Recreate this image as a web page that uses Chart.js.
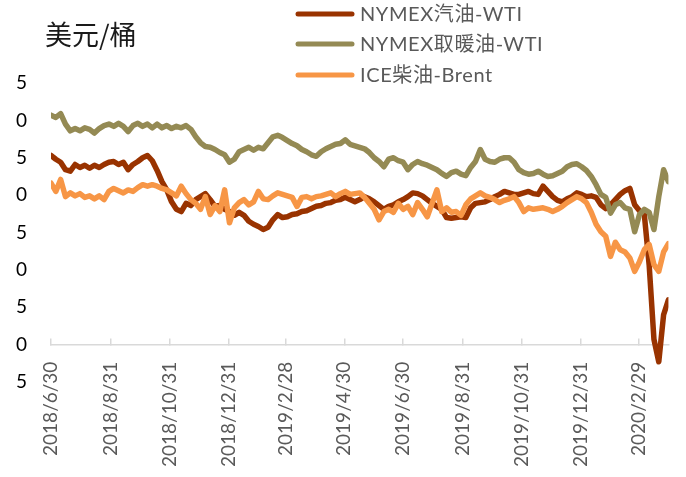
<!DOCTYPE html>
<html>
<head>
<meta charset="utf-8">
<script src="https://cdn.jsdelivr.net/npm/chart.js@4.4.0/dist/chart.umd.min.js"></script>
<style>
  html, body { margin: 0; padding: 0; background: #fff; }
  #wrap { width: 686px; height: 477px; }
</style>
</head>
<body>
<div id="wrap"><canvas id="chart" width="686" height="477"></canvas></div>
<script>
// spreads, USD/bbl, one reading every 5 days from 2018/6/30
const startDate = '2018/6/30';
const stepDays = 5;
const yUnit = '美元/桶';
const seriesNames = ['NYMEX汽油-WTI', 'NYMEX取暖油-WTI', 'ICE柴油-Brent'];

const gasoline = [
  25.3,24.8,24.4,23.4,23.2,24.1,23.7,24.0,23.6,24.0,
  23.7,24.1,24.4,24.5,24.1,24.4,23.4,24.1,24.5,25.0,
  25.3,24.6,23.3,21.8,20.7,19.1,18.1,17.8,18.9,18.6,
  19.4,19.8,20.2,19.4,18.5,18.6,18.1,17.8,17.3,17.7,
  17.3,16.5,16.1,15.8,15.4,15.7,16.7,17.4,17.0,17.1,
  17.4,17.5,17.8,17.9,18.2,18.5,18.6,18.9,19.0,19.3,
  19.4,19.7,19.4,19.1,19.4,19.8,19.5,19.1,18.6,18.1,
  18.5,18.7,19.1,19.4,19.8,20.3,20.2,19.9,19.4,18.9,
  18.5,18.1,17.0,16.9,17.0,17.1,17.0,18.3,18.9,19.0,
  19.1,19.4,19.8,20.1,20.5,20.3,20.1,20.1,20.3,20.5,
  20.2,20.1,21.2,20.5,19.8,19.3,19.1,19.5,19.8,20.3,
  20.1,19.8,19.9,19.7,18.7,18.2,18.7,19.4,20.1,20.6,
  20.9,18.7,17.9,17.4,10.7,0.7,-2.3,4.0,6.0
];

const heatingOil = [
  30.7,30.4,30.9,29.5,28.6,28.9,28.6,29.0,28.8,28.3,
  28.9,29.3,29.5,29.2,29.6,29.2,28.5,29.3,29.6,29.2,
  29.5,29.0,29.5,29.0,29.3,28.9,29.2,29.0,29.3,28.8,
  27.8,27.0,26.5,26.4,26.1,25.7,25.4,24.4,24.8,25.8,
  26.1,26.4,26.0,26.4,26.2,27.0,27.8,28.0,27.7,27.3,
  26.9,26.6,26.1,25.8,25.4,25.2,25.8,26.2,26.5,26.8,
  26.9,27.4,26.8,26.6,26.4,26.2,25.7,25.0,24.5,23.8,
  24.8,25.0,24.6,24.4,23.4,24.1,24.5,24.2,24.0,23.7,
  23.4,22.9,22.5,23.0,23.2,22.8,22.6,23.7,24.5,26.1,
  24.8,24.5,24.4,24.8,25.0,25.0,24.4,23.4,23.0,22.8,
  22.9,23.2,22.8,22.5,22.6,22.9,23.2,23.8,24.1,24.2,
  23.8,23.3,22.5,21.4,20.1,19.7,17.6,18.7,19.0,18.3,
  18.1,15.1,17.4,18.1,17.7,15.4,19.8,23.4,21.8
];

const diesel = [
  21.6,20.5,22.1,19.8,20.3,19.9,20.2,19.7,19.9,19.5,
  19.9,19.4,20.5,20.9,20.6,20.3,20.7,20.5,21.0,21.4,
  21.2,21.4,21.2,20.9,20.7,20.3,19.9,21.2,20.2,19.4,
  18.9,18.1,19.8,17.4,18.6,17.8,20.7,16.3,18.3,19.0,
  19.4,18.7,19.1,20.5,19.5,19.4,19.9,20.3,20.1,19.9,
  19.7,18.5,19.7,19.8,19.5,19.8,19.9,20.1,20.3,19.8,
  20.2,20.5,20.1,20.2,20.3,19.7,18.9,18.1,16.7,17.8,
  18.1,17.7,18.9,18.1,18.5,17.4,19.0,18.1,17.1,18.9,
  20.7,17.8,18.3,17.7,17.8,17.3,18.7,19.5,19.9,20.3,
  19.9,19.7,19.4,19.0,19.3,19.5,19.8,19.0,17.8,18.3,
  18.1,18.2,18.3,18.1,17.8,18.1,18.5,19.0,19.4,19.8,
  19.5,19.0,17.7,16.1,15.1,14.5,11.8,13.7,12.7,12.4,
  11.6,9.8,11.1,12.7,13.4,10.7,9.8,12.4,13.5
];

const tickLabels = [
  '2018/6/30','2018/8/31','2018/10/31','2018/12/31','2019/2/28','2019/4/30',
  '2019/6/30','2019/8/31','2019/10/31','2019/12/31','2020/2/29'
];

const colors = ['#993300', '#948A54', '#F79646'];

function dayOffset(s) {
  const a = s.split('/').map(Number);
  const b = startDate.split('/').map(Number);
  return Math.round((Date.UTC(a[0], a[1] - 1, a[2]) - Date.UTC(b[0], b[1] - 1, b[2])) / 86400000);
}

const days = gasoline.map((_, i) => i * stepDays);
const toPoints = arr => arr.map((v, i) => ({ x: days[i], y: v }));
const tickDays = tickLabels.map(dayOffset);

const font = 'Lato, "Noto Sans CJK SC", sans-serif';

// title + vertical legend at top
const overlay = {
  id: 'overlay',
  afterDraw(chart) {
    const ctx = chart.ctx;
    ctx.save();
    ctx.fillStyle = '#1a1a1a';
    ctx.font = '27px "Noto Sans CJK SC", sans-serif';
    ctx.textBaseline = 'middle';
    ctx.fillText(yUnit, 45, 35);

    const rowsY = [14, 44, 75];
    ctx.font = '20px ' + font;
    ctx.letterSpacing = '0.6px';
    ctx.lineCap = 'round';
    chart.data.datasets.forEach((ds, i) => {
      const y = rowsY[i];
      ctx.strokeStyle = ds.borderColor;
      ctx.lineWidth = 5;
      ctx.beginPath();
      ctx.moveTo(298, y);
      ctx.lineTo(352, y);
      ctx.stroke();
      ctx.fillStyle = '#595959';
      ctx.fillText(ds.label, 360, y + 1);
    });
    ctx.restore();
  }
};

new Chart(document.getElementById('chart'), {
  type: 'line',
  data: {
    datasets: [
      { label: seriesNames[0], data: toPoints(gasoline), borderColor: colors[0], order: 3 },
      { label: seriesNames[1], data: toPoints(heatingOil), borderColor: colors[1], order: 2 },
      { label: seriesNames[2], data: toPoints(diesel), borderColor: colors[2], order: 1 }
    ]
  },
  options: {
    responsive: false,
    animation: false,
    devicePixelRatio: 1,
    layout: { padding: { top: 83, bottom: 95, left: 15, right: 14 } },
    elements: {
      line: { borderWidth: 5.5, tension: 0, borderJoinStyle: 'round', borderCapStyle: 'round' },
      point: { radius: 0 }
    },
    plugins: {
      legend: { display: false },
      tooltip: { enabled: false }
    },
    scales: {
      x: {
        type: 'linear',
        position: { y: 0 },
        min: 0,
        max: days[days.length - 1],
        afterBuildTicks: scale => { scale.ticks = tickDays.map(v => ({ value: v })); },
        grid: { drawOnChartArea: false, drawTicks: true, tickLength: -7, color: '#d9d9d9', lineWidth: 1.5 },
        border: { display: true, color: '#d9d9d9', width: 1.5 },
        ticks: {
          autoSkip: false,
          minRotation: 90,
          maxRotation: 90,
          padding: 24,
          color: '#595959',
          font: { family: font, size: 19 },
          callback: (v, i) => tickLabels[i]
        }
      },
      y: {
        min: -5,
        max: 35,
        afterFit: scale => { scale.width = 36; },
        grid: { display: false, drawTicks: false },
        border: { display: false },
        ticks: {
          stepSize: 5,
          padding: 24,
          color: '#000',
          font: { family: font, size: 19 },
          callback: v => String(Math.abs(v) % 10)
        }
      }
    }
  },
  plugins: [overlay]
});
</script>
</body>
</html>
